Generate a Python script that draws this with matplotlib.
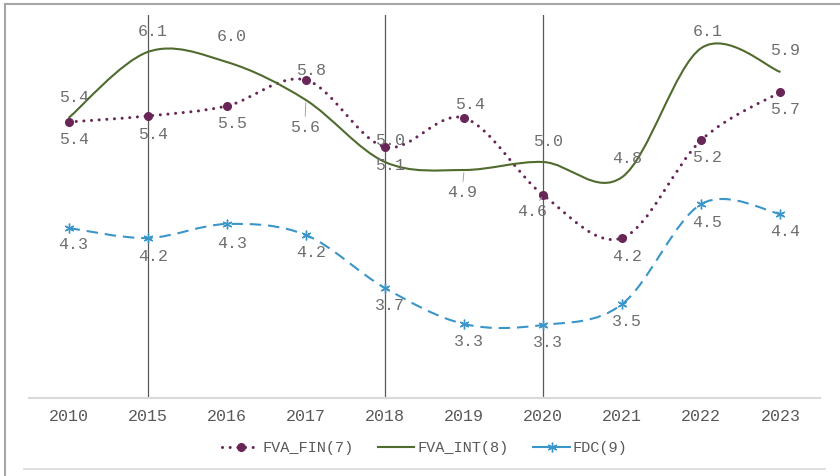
import numpy as np
import matplotlib
matplotlib.use('Agg')
import matplotlib.pyplot as plt
from matplotlib.path import Path
from matplotlib.patches import PathPatch
from matplotlib.lines import Line2D

# data
years = ['2010', '2015', '2016', '2017', '2018', '2019', '2020', '2021', '2022', '2023']
fva_fin = [5.36, 5.42, 5.52, 5.78, 5.11, 5.40, 4.63, 4.20, 5.18, 5.66]
fva_int = [5.40, 6.06, 5.96, 5.58, 4.96, 4.88, 4.96, 4.81, 6.10, 5.86]
fdc = [4.30, 4.20, 4.34, 4.23, 3.70, 3.34, 3.33, 3.54, 4.54, 4.44]
marked_years = ['2015', '2018', '2020']

# label offsets in pixels (dx, dy), dy positive = up
fin_offsets = [(5, -18), (5, -19), (5, -18), (5, 9), (5, -19), (6, 13), (-11, -17), (5, -19), (6, -17), (5, -18)]
int_offsets = [(5, 20), (5, 20), (5, 25), (-1, -28), (5, 21), (-2, -23), (5, 20), (5, 18), (6, 17), (5, 21)]
fdc_offsets = [(5, -17), (5, -19), (5, -20), (5, -18), (5, -18), (5, -18), (5, -18), (5, -18), (6, -19), (5, -18)]
leaders = {('fin', 6), ('int', 3), ('int', 5)}

FIN_COLOR = '#682657'
INT_COLOR = '#4F6B2D'
FDC_COLOR = '#3A95C8'
TEXT_COLOR = '#595959'
FONT = 'Liberation Mono'


def smooth_path(xs, ys):
    # Catmull-Rom style bezier, like a spreadsheet "smoothed line"
    pts = np.column_stack([xs, ys]).astype(float)
    n = len(pts)
    verts = [pts[0]]
    codes = [Path.MOVETO]
    for i in range(n - 1):
        p0 = pts[max(i - 1, 0)]
        p1 = pts[i]
        p2 = pts[i + 1]
        p3 = pts[min(i + 2, n - 1)]
        c1 = p1 + (p2 - p0) / 6.0
        c2 = p2 - (p3 - p1) / 6.0
        verts += [c1, c2, p2]
        codes += [Path.CURVE4] * 3
    return Path(verts, codes)


fig = plt.figure(figsize=(8.4, 4.76), dpi=100)
ax = fig.add_axes([29 / 840, 1 - 398 / 476, (820 - 29) / 840, (398 - 15) / 476])

x = np.arange(len(years))

for idx, yr in enumerate(years):
    if yr in marked_years:
        ax.axvline(idx, color='#595959', lw=0.9, zorder=1)

# FVA_FIN dotted
ax.add_patch(PathPatch(smooth_path(x, fva_fin), fill=False, edgecolor=FIN_COLOR, lw=2.2,
                       ls=(0, (0.01, 2.5)), capstyle='round', zorder=3))
ax.plot(x, fva_fin, ls='none', marker='o', ms=5.5, color=FIN_COLOR, zorder=4)

# FVA_INT solid
ax.add_patch(PathPatch(smooth_path(x, fva_int), fill=False, edgecolor=INT_COLOR, lw=1.5, zorder=3))

# FDC dashed with star
ax.add_patch(PathPatch(smooth_path(x, fdc), fill=False, edgecolor=FDC_COLOR, lw=1.5,
                       ls=(0, (5.5, 3.3)), zorder=3))
ax.plot(x, fdc, ls='none', marker=(6, 2, 0), ms=7, mew=1, color=FDC_COLOR, zorder=4)


def add_labels(key, values, offsets):
    for i, (v, off) in enumerate(zip(values, offsets)):
        arrow = None
        if (key, i) in leaders:
            arrow = dict(arrowstyle='-', color='#A6A6A6', lw=0.7, shrinkA=1, shrinkB=2)
        ax.annotate(f'{v:.1f}', xy=(i, v), xytext=off, textcoords='offset pixels',
                    ha='center', va='center', fontsize=12, family=FONT,
                    color='#6E6E6E', arrowprops=arrow, zorder=5)


add_labels('fin', fva_fin, fin_offsets)
add_labels('int', fva_int, int_offsets)
add_labels('fdc', fdc, fdc_offsets)

ax.set_xlim(-0.5, len(years) - 0.5)
ax.set_ylim(2.60, 6.43)
ax.set_xticks(x)
ax.set_xticklabels(years, family=FONT, fontsize=12, color=TEXT_COLOR)
ax.set_yticks([])
ax.tick_params(axis='x', length=0, pad=8)
for side in ['top', 'right', 'left']:
    ax.spines[side].set_visible(False)
ax.spines['bottom'].set_color('#D9D9D9')
ax.spines['bottom'].set_linewidth(1.5)
ax.patch.set_visible(False)

# legend
handles = [
    Line2D([0], [0], color=FIN_COLOR, lw=2.2, ls=(0, (0.01, 2.5)), dash_capstyle='round',
           marker='o', ms=5.5),
    Line2D([0], [0], color=INT_COLOR, lw=1.5),
    Line2D([0], [0], color=FDC_COLOR, lw=1.5, marker=(6, 2, 0), ms=7, mew=1),
]
leg = fig.legend(handles, ['FVA_FIN(7)', 'FVA_INT(8)', 'FDC(9)'], loc='center',
                 bbox_to_anchor=(425 / 840, 1 - 448 / 476), ncol=3, frameon=False,
                 prop={'family': FONT, 'size': 11}, handlelength=2.4, handletextpad=0.2,
                 columnspacing=1.6, labelcolor=TEXT_COLOR)

# chart frame lines
fig.add_artist(Line2D([4.5 / 840, 4.5 / 840], [0, 1 - 3.5 / 476], color='#A6A6A6', lw=1.5,
                      transform=fig.transFigure))
fig.add_artist(Line2D([4.5 / 840, 1], [1 - 3.5 / 476, 1 - 3.5 / 476], color='#A6A6A6', lw=1.5,
                      transform=fig.transFigure))
fig.add_artist(Line2D([24 / 840, 825 / 840], [1 - 469 / 476, 1 - 469 / 476], color='#D9D9D9',
                      lw=1.2, transform=fig.transFigure))

plt.savefig('out.png', dpi=100)
